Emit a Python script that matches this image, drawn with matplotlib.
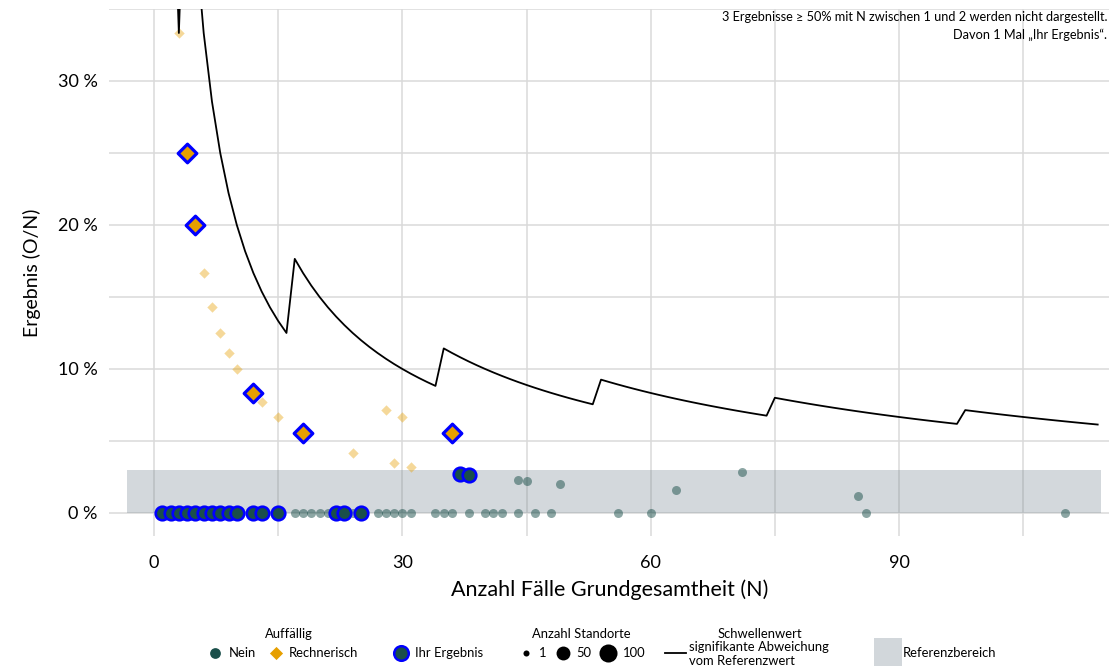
import numpy as np
import matplotlib.pyplot as plt
from matplotlib.ticker import MultipleLocator, FuncFormatter

plt.rcParams['font.family'] = ['Lato', 'DejaVu Sans']

# andere Standorte, Auffaellig = Nein  (N, O)
andere_nein_N = [17, 18, 19, 20, 21, 24, 27, 28, 29, 30, 31, 34, 35, 36, 38, 40, 41, 42,
                 44, 46, 48, 56, 60, 86, 110, 44, 45, 49, 63, 71, 85]
andere_nein_O = [0, 0, 0, 0, 0, 0, 0, 0, 0, 0, 0, 0, 0, 0, 0, 0, 0, 0,
                 0, 0, 0, 0, 0, 0, 0, 1, 1, 1, 1, 2, 1]

# andere Standorte, Auffaellig = Rechnerisch
andere_rech_N = [3, 6, 7, 8, 9, 10, 13, 15, 24, 28, 29, 30, 31]
andere_rech_O = [1, 1, 1, 1, 1, 1, 1, 1, 1, 2, 1, 2, 1]

# Ihr Ergebnis
ihr_nein_N = [1, 2, 3, 4, 5, 6, 7, 8, 9, 10, 12, 13, 15, 22, 23, 25, 37, 38]
ihr_nein_O = [0, 0, 0, 0, 0, 0, 0, 0, 0, 0, 0, 0, 0, 0, 0, 0, 1, 1]
ihr_rech_N = [4, 5, 12, 18, 36]
ihr_rech_O = [1, 1, 1, 1, 2]

# Schwellenwert: kritische Anzahl O je Bereich von N
schwelle_N_von = [1, 4, 17, 35, 54, 75, 98]
schwelle_N_bis = [3, 16, 34, 53, 74, 97, 114]
schwelle_O = [1, 2, 3, 4, 5, 6, 7]

referenz_oben = 0.03

GRUEN = '#1a4f4a'
ORANGE = '#e69f00'
BLAU = '#0000ff'

def ratio(o, n):
    return np.array(o) / np.array(n)

s_N = np.concatenate([np.arange(a, b + 1) for a, b in zip(schwelle_N_von, schwelle_N_bis)])
s_O = np.concatenate([[o] * (b - a + 1) for a, b, o in zip(schwelle_N_von, schwelle_N_bis, schwelle_O)])

fig = plt.figure(figsize=(11.09, 6.69), dpi=100)
W, H = 1109, 669
ax = fig.add_axes([108.5 / W, 133 / H, 1001.6 / W, 527 / H])
ax.set_xlim(-5.5, 115.5)
ax.set_ylim(-0.016, 0.35)

for s in ax.spines.values():
    s.set_visible(False)
ax.xaxis.set_major_locator(MultipleLocator(30))
ax.xaxis.set_minor_locator(MultipleLocator(15))
ax.yaxis.set_major_locator(MultipleLocator(0.1))
ax.yaxis.set_minor_locator(MultipleLocator(0.05))
ax.yaxis.set_major_formatter(FuncFormatter(lambda v, p: f'{v * 100:.0f} %'))
ax.grid(True, which='both', color='#dadada', lw=1.1, zorder=0)
ax.set_axisbelow(True)
ax.tick_params(which='both', length=0, labelsize=13, colors='black')
ax.tick_params(axis='x', pad=14)
ax.tick_params(axis='y', pad=8)
ax.set_xlabel('Anzahl Fälle Grundgesamtheit (N)', fontsize=15.5, labelpad=6)
ax.set_ylabel('Ergebnis (O/N)', fontsize=14, labelpad=12)

# Referenzbereich
ax.axhspan(0, referenz_oben, xmin=0.0185, xmax=0.991, color='#6e7f8b', alpha=0.3, lw=0, zorder=1)

# andere Standorte (blass)
ax.scatter(andere_nein_N, ratio(andere_nein_O, andere_nein_N), s=42, color=GRUEN, alpha=0.5, lw=0, zorder=2)
ax.scatter(andere_rech_N, ratio(andere_rech_O, andere_rech_N), s=28, marker='D', color=ORANGE, alpha=0.4, lw=0, zorder=2)

# Schwellenwert
ax.plot(s_N, s_O / s_N, color='black', lw=1.3, zorder=3)

# Ihr Ergebnis
ax.scatter(ihr_nein_N, ratio(ihr_nein_O, ihr_nein_N), s=95, color=GRUEN, edgecolor=BLAU, lw=1.9, zorder=4)
ax.scatter(ihr_rech_N, ratio(ihr_rech_O, ihr_rech_N), s=90, marker='D', color=ORANGE, edgecolor=BLAU, lw=2.3, zorder=4)

ax.text(1107 / W, 1 - 16.7 / H, '3 Ergebnisse ≥ 50% mit N zwischen 1 und 2 werden nicht dargestellt.',
        transform=fig.transFigure, ha='right', va='center', fontsize=9.2)
ax.text(1107 / W, 1 - 35 / H, 'Davon 1 Mal „Ihr Ergebnis“.',
        transform=fig.transFigure, ha='right', va='center', fontsize=9.2)

# Legende
lax = fig.add_axes([0, 0, 1, 1])
lax.set_xlim(0, W)
lax.set_ylim(H, 0)
lax.axis('off')
fs = 9.4
ry = 653
lax.text(289, 634, 'Auffällig', ha='center', va='center', fontsize=fs)
lax.scatter([215], [ry], s=60, color=GRUEN, lw=0)
lax.text(229, ry, 'Nein', va='center', fontsize=fs)
lax.scatter([276], [ry], s=45, marker='D', color=ORANGE, lw=0)
lax.text(289, ry, 'Rechnerisch', va='center', fontsize=fs)
lax.scatter([401], [ry], s=110, color=GRUEN, edgecolor=BLAU, lw=1.8)
lax.text(415, ry, 'Ihr Ergebnis', va='center', fontsize=fs)

lax.text(581, 634, 'Anzahl Standorte', ha='center', va='center', fontsize=fs)
for x, sz, lab, tx in [(526, 19, '1', 539), (563, 100, '50', 576), (608, 169, '100', 623)]:
    lax.scatter([x], [ry], s=sz, color='black', lw=0)
    lax.text(tx, ry, lab, va='center', fontsize=fs)

lax.plot([665, 686], [ry, ry], color='black', lw=1.3)
lax.text(760, 634, 'Schwellenwert', ha='center', va='center', fontsize=fs)
lax.text(689, 647, 'signifikante Abweichung', va='center', fontsize=fs)
lax.text(689, 661, 'vom Referenzwert', va='center', fontsize=fs)

lax.add_patch(plt.Rectangle((874, 638), 28, 28, color='#d2d7db', lw=0))
lax.text(903, ry, 'Referenzbereich', va='center', fontsize=fs)

fig.savefig('out.png', dpi=100)
